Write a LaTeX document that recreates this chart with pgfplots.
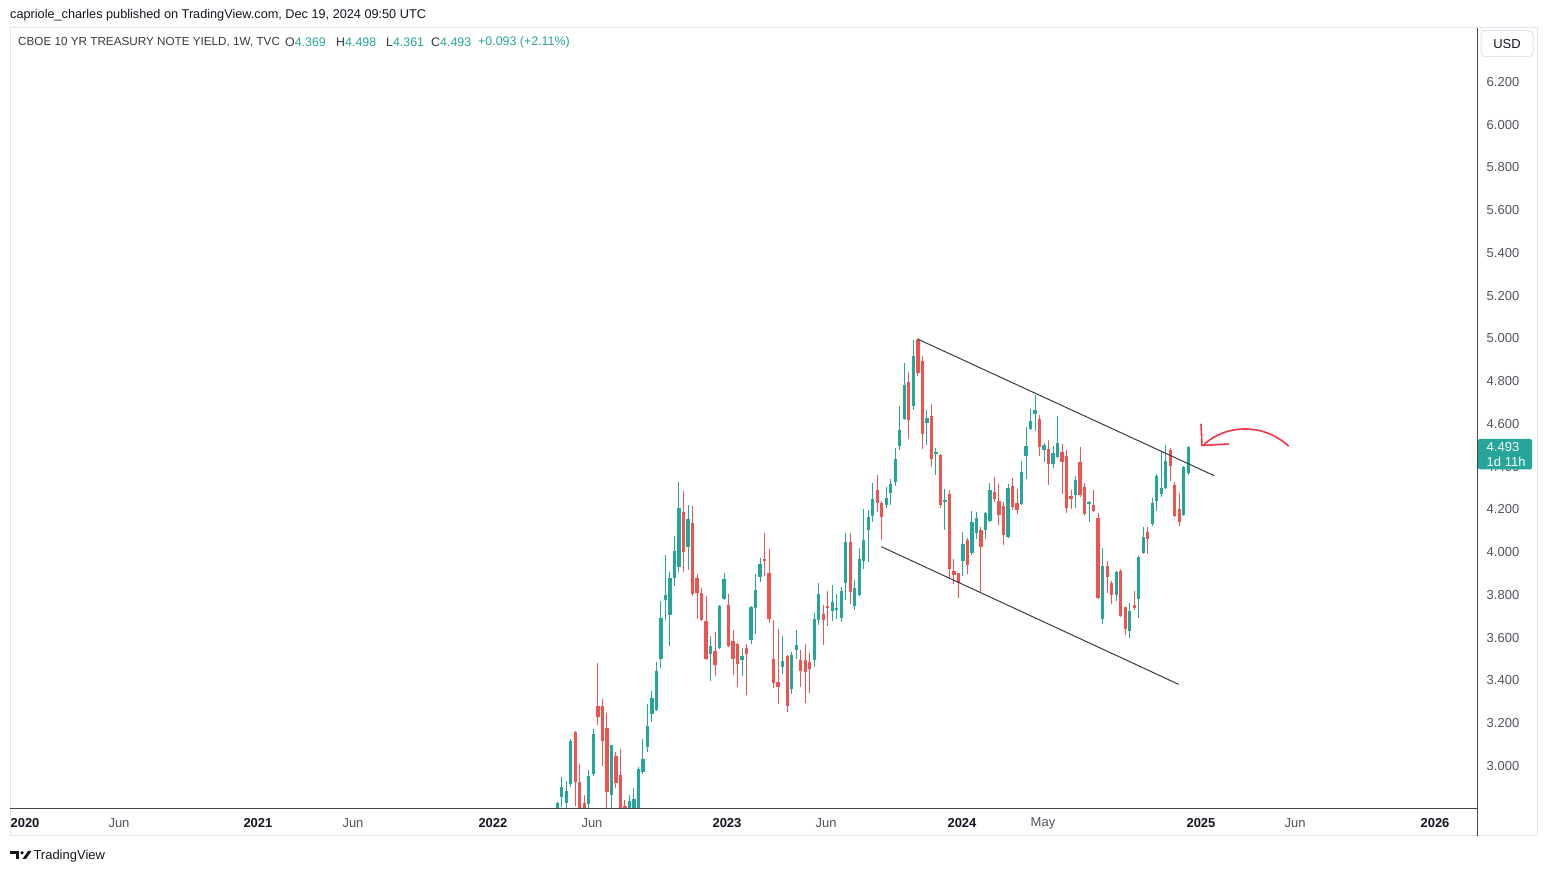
\documentclass[border=0pt]{standalone}
\usepackage{fontspec}
\setmainfont{Liberation Sans}
\usepackage{pgfplots}
\pgfplotsset{compat=1.18}
\usepackage{pgfplotstable}

\definecolor{tvgreen}{RGB}{38,166,154}
\definecolor{tvred}{RGB}{239,83,80}
\definecolor{tvdark}{RGB}{19,23,34}
\definecolor{tvgray}{RGB}{80,83,94}
\definecolor{tvborder}{RGB}{224,227,235}
\definecolor{tvarrow}{RGB}{242,54,69}
\newcommand\tvfont{\fontsize{13bp}{15bp}\selectfont}
\newcommand\hdfont{\fontsize{12.7bp}{15bp}\selectfont}
\newcommand\lgfont{\fontsize{11.7bp}{14bp}\selectfont}
\newcommand\lvfont{\fontsize{12.4bp}{14bp}\selectfont}

\pgfplotstableread{
x o h l c
1 2.74 2.832 2.70 2.827
2 2.855 2.949 2.808 2.902
3 2.827 2.930 2.78 2.883
4 2.916 3.126 2.902 3.117
8 2.822 2.981 2.80 2.953
9 2.963 3.173 2.953 3.150
13 2.864 3.100 2.78 3.098
17 2.65 2.864 2.57 2.836
18 2.75 2.897 2.73 2.846
19 2.79 2.995 2.77 2.986
20 2.972 3.126 2.963 3.033
21 3.089 3.290 3.065 3.187
22 3.243 3.351 3.206 3.318
23 3.262 3.487 3.257 3.444
24 3.501 3.772 3.458 3.692
25 3.777 3.987 3.683 3.800
26 3.706 3.908 3.561 3.880
27 3.880 4.076 3.842 4.006
28 3.931 4.329 3.908 4.207
30 4.025 4.221 3.917 4.156
35 3.524 3.608 3.398 3.561
37 3.552 3.752 3.547 3.749
38 3.781 3.903 3.777 3.875
42 3.496 3.552 3.421 3.515
44 3.589 3.748 3.571 3.744
45 3.739 3.898 3.618 3.823
46 3.884 3.973 3.861 3.945
51 3.463 3.608 3.43 3.491
53 3.360 3.533 3.337 3.519
54 3.543 3.636 3.501 3.566
58 3.496 3.716 3.463 3.688
59 3.683 3.856 3.660 3.805
62 3.725 3.847 3.678 3.767
63 3.732 3.805 3.688 3.737
64 3.692 3.837 3.674 3.819
65 3.856 4.090 3.777 4.048
67 3.749 3.870 3.730 3.833
68 3.800 4.020 3.795 3.968
69 3.959 4.202 3.922 4.057
70 4.104 4.198 3.954 4.165
71 4.170 4.324 4.142 4.249
74 4.221 4.305 4.207 4.254
75 4.277 4.343 4.221 4.319
76 4.329 4.488 4.310 4.436
77 4.497 4.684 4.478 4.572
78 4.623 4.885 4.619 4.782
80 4.684 4.993 4.665 4.918
83 4.605 4.665 4.502 4.628
85 4.460 4.488 4.361 4.469
87 4.235 4.296 4.104 4.244
91 3.959 4.095 3.889 4.039
93 3.996 4.193 3.987 4.142
94 4.090 4.188 4.062 4.160
96 4.104 4.188 4.062 4.184
97 4.146 4.324 4.142 4.291
101 4.071 4.319 4.067 4.301
104 4.226 4.427 4.221 4.375
105 4.450 4.586 4.343 4.497
106 4.577 4.670 4.572 4.614
107 4.647 4.736 4.567 4.665
109 4.478 4.511 4.422 4.502
111 4.413 4.497 4.394 4.464
112 4.446 4.637 4.441 4.511
116 4.268 4.357 4.207 4.338
119 4.226 4.240 4.142 4.235
122 3.688 4.020 3.664 3.936
125 3.800 3.912 3.772 3.908
128 3.632 3.763 3.599 3.725
130 3.781 3.982 3.692 3.978
131 3.996 4.118 3.992 4.071
133 4.132 4.254 4.123 4.230
134 4.240 4.366 4.193 4.357
135 4.273 4.474 4.258 4.301
136 4.301 4.502 4.296 4.427
140 4.174 4.404 4.170 4.399
141 4.369 4.498 4.361 4.493
}\upc

\pgfplotstableread{
x o h l c
5 3.159 3.164 2.813 2.925
6 2.925 3.009 2.72 2.78
7 2.827 2.864 2.70 2.74
10 3.281 3.482 3.192 3.229
11 3.281 3.313 3.000 3.117
12 3.178 3.248 2.79 2.878
14 3.047 3.065 2.897 2.920
15 2.958 3.080 2.60 2.65
16 2.813 2.841 2.57 2.65
29 4.188 4.287 3.908 4.001
31 4.137 4.216 3.795 3.805
32 3.880 3.898 3.688 3.809
33 3.809 3.833 3.678 3.683
34 3.678 3.795 3.496 3.501
36 3.538 3.627 3.421 3.473
39 3.753 3.805 3.557 3.561
40 3.585 3.636 3.426 3.501
41 3.571 3.575 3.370 3.477
43 3.552 3.571 3.332 3.524
47 3.968 4.090 3.889 3.959
48 3.903 4.015 3.669 3.688
49 3.501 3.683 3.365 3.388
50 3.393 3.641 3.290 3.370
52 3.515 3.520 3.253 3.281
55 3.496 3.543 3.370 3.444
56 3.496 3.571 3.295 3.440
57 3.487 3.529 3.342 3.454
60 3.711 3.753 3.566 3.683
61 3.749 3.819 3.655 3.739
66 4.048 4.090 3.758 3.814
72 4.291 4.361 4.188 4.230
73 4.230 4.240 4.057 4.165
79 4.796 4.843 4.530 4.619
81 4.993 4.998 4.824 4.838
82 4.895 4.918 4.483 4.553
84 4.637 4.694 4.399 4.436
86 4.455 4.460 4.207 4.221
88 4.273 4.291 3.880 3.922
89 3.912 3.968 3.851 3.894
90 3.903 3.905 3.786 3.856
92 4.057 4.067 3.898 3.940
95 4.104 4.118 3.814 4.025
98 4.282 4.352 4.235 4.249
99 4.240 4.319 4.128 4.174
100 4.216 4.235 4.034 4.081
102 4.310 4.347 4.198 4.212
103 4.230 4.296 4.179 4.198
108 4.623 4.642 4.450 4.492
110 4.483 4.525 4.315 4.413
113 4.469 4.506 4.273 4.422
114 4.450 4.478 4.184 4.207
115 4.263 4.291 4.202 4.249
117 4.422 4.492 4.258 4.268
118 4.305 4.324 4.170 4.179
120 4.221 4.291 4.188 4.193
121 4.160 4.184 3.781 3.786
123 3.936 3.959 3.809 3.884
124 3.856 3.865 3.758 3.800
126 3.912 3.922 3.697 3.702
127 3.744 3.746 3.613 3.641
129 3.753 3.819 3.730 3.739
132 4.095 4.118 3.992 4.062
137 4.478 4.488 4.333 4.404
138 4.315 4.329 4.165 4.170
139 4.202 4.277 4.123 4.142
}\downc

\begin{document}
\begin{tikzpicture}
\fill[white] (0,0) rectangle (1547bp,872bp);
\begin{axis}[
  at={(10bp,63bp)}, anchor=south west,
  scale only axis, width=1467bp, height=781bp,
  xmin=-120.43, xmax=205.06, ymin=2.7988, ymax=6.4526,
  axis line style={draw=none},
  major tick length=0pt,
  /pgf/number format/assume math mode=true,
  xtick={-117.10,-96.25,-65.41,-44.33,-13.27,8.70,38.65,60.62,90.79,108.77,143.82,164.68,195.74},
  xticklabels={{\bfseries 2020},{\color{tvgray}Jun},{\bfseries 2021},{\color{tvgray}Jun},{\bfseries 2022},{\color{tvgray}Jun},{\bfseries 2023},{\color{tvgray}Jun},{\bfseries 2024},{\color{tvgray}May},{\bfseries 2025},{\color{tvgray}Jun},{\bfseries 2026}},
  xticklabel style={anchor=center, yshift=-14bp, font=\tvfont, text=tvdark},
  ytick={3,3.2,3.4,3.6,3.8,4,4.2,4.4,4.6,4.8,5,5.2,5.4,5.6,5.8,6,6.2},
  yticklabel pos=right,
  yticklabel style={anchor=center, xshift=26bp, font=\tvfont, text=tvgray,
    /pgf/number format/.cd, fixed, fixed zerofill, precision=3},
  clip=true,
  candle/.style={draw=none, mark=none, error bars/.cd, y dir=both, y explicit, error mark=none},
]
% wicks
\addplot[candle, error bar style={line width=1bp, draw=tvgreen, solid}]
  table[x=x, y expr={(\thisrow{h}+\thisrow{l})/2}, y error expr={(\thisrow{h}-\thisrow{l})/2}] {\upc};
\addplot[candle, error bar style={line width=1bp, draw=tvred, solid}]
  table[x=x, y expr={(\thisrow{h}+\thisrow{l})/2}, y error expr={(\thisrow{h}-\thisrow{l})/2}] {\downc};
% bodies
\addplot[candle, error bar style={line width=3.3bp, draw=tvgreen, solid}]
  table[x=x, y expr={(\thisrow{o}+\thisrow{c})/2}, y error expr={max(abs(\thisrow{c}-\thisrow{o})/2,0.0012)}] {\upc};
\addplot[candle, error bar style={line width=3.3bp, draw=tvred, solid}]
  table[x=x, y expr={(\thisrow{o}+\thisrow{c})/2}, y error expr={max(abs(\thisrow{c}-\thisrow{o})/2,0.0012)}] {\downc};
% channel
\addplot[tvdark!85, line width=1bp, mark=none] coordinates {(80.88,4.998) (146.77,4.358)};
\addplot[tvdark!85, line width=1bp, mark=none] coordinates {(72.89,4.026) (138.87,3.382)};
\end{axis}

% frame
\draw[tvborder, line width=1bp] (10bp,36bp) rectangle (1537bp,844bp);
\draw[tvdark!80, line width=1bp] (10bp,63bp) -- (1477bp,63bp);
\draw[tvdark!80, line width=1bp] (1477bp,36bp) -- (1477bp,844bp);

% price label
\fill[tvgreen, rounded corners=2bp] (1478bp,402.7bp) rectangle (1532bp,433bp);
\node[anchor=west, inner sep=0, text=white, font=\tvfont] at (1486.5bp,425.3bp) {4.493};
\node[anchor=west, inner sep=0, text=white, font=\tvfont] at (1486.5bp,410.3bp) {1d 11h};

% USD box
\draw[tvborder, fill=white, rounded corners=4bp, line width=1bp] (1481bp,815.3bp) rectangle (1533bp,841.3bp);
\node[font=\tvfont, text=tvdark] at (1507bp,828bp) {USD};

% arrow
\draw[tvarrow, line width=1.6bp, line cap=round, line join=round] (1201bp,447.7bp) -- (1202bp,426.5bp) -- (1228.5bp,428bp);
\draw[tvarrow, line width=1.6bp, line cap=round] (1204bp,427.5bp) .. controls (1225bp,447bp) and (1262bp,450bp) .. (1288.5bp,426bp);

% header
\node[anchor=west, inner sep=0, text=tvdark, font=\hdfont] at (10bp,857bp) {capriole\_charles published on TradingView.com, Dec 19, 2024 09:50 UTC};
\node[anchor=west, inner sep=0, text=tvdark!85, font=\lgfont] at (18bp,830bp) {CBOE 10 YR TREASURY NOTE YIELD, 1W, TVC};
\node[anchor=west, inner sep=0, font=\lvfont] at (285bp,830bp) {\color{tvdark!85}O\color{tvgreen}4.369};
\node[anchor=west, inner sep=0, font=\lvfont] at (336bp,830bp) {\color{tvdark!85}H\color{tvgreen}4.498};
\node[anchor=west, inner sep=0, font=\lvfont] at (386bp,830bp) {\color{tvdark!85}L\color{tvgreen}4.361};
\node[anchor=west, inner sep=0, font=\lvfont] at (431bp,830bp) {\color{tvdark!85}C\color{tvgreen}4.493};
\node[anchor=west, inner sep=0, font=\lvfont, text=tvgreen] at (478bp,830bp) {+0.093 (+2.11\%)};

% TradingView logo
\fill[tvdark] (10bp,21bp) rectangle (19bp,17.8bp);
\fill[tvdark] (15.6bp,13bp) rectangle (19bp,21bp);
\fill[tvdark] (22bp,19.2bp) circle (1.8bp);
\fill[tvdark] (22.5bp,13bp) -- (26bp,13bp) -- (31.5bp,21bp) -- (28bp,21bp) -- cycle;
\node[anchor=west, inner sep=0, text=tvdark, font=\tvfont] at (33.3bp,16.3bp) {TradingView};
\end{tikzpicture}
\end{document}
